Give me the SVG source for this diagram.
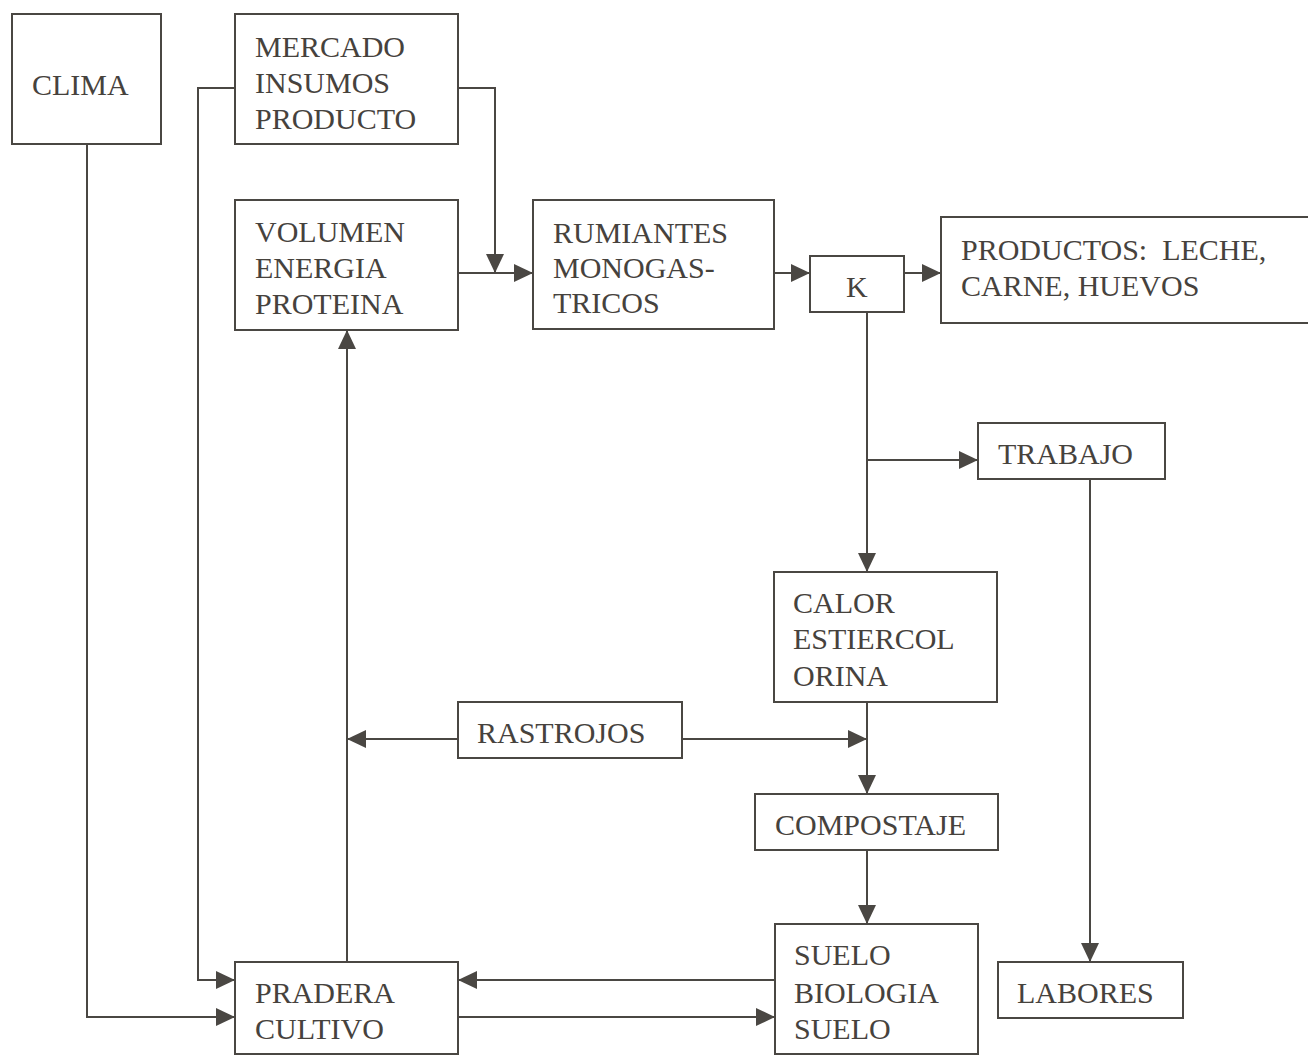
<svg xmlns="http://www.w3.org/2000/svg" width="1308" height="1057" viewBox="0 0 1308 1057">
<defs>
<style>
.box{fill:#fff;stroke:#4a4743;stroke-width:2}
.ln{fill:none;stroke:#4a4743;stroke-width:2;marker-end:url(#ah)}
text{font-family:"Liberation Serif","Times New Roman",serif;font-size:30px;fill:#46423d;white-space:pre}
</style>
<marker id="ah" markerUnits="userSpaceOnUse" markerWidth="19" markerHeight="18" refX="19" refY="9" orient="auto">
<path d="M0,0 L19,9 L0,18 z" fill="#4a4743"/>
</marker>
</defs>
<rect width="1308" height="1057" fill="#fff"/>
<g id="connectors">
<path class="ln" d="M87,144 V1017 H235"/>
<path class="ln" d="M235,88 H198 V980 H235"/>
<path class="ln" d="M458,88 H495 V273"/>
<path class="ln" d="M458,273 H533"/>
<path class="ln" d="M774,273 H810"/>
<path class="ln" d="M904,273 H941"/>
<path class="ln" d="M867,312 V572"/>
<path class="ln" d="M867,460 H978"/>
<path class="ln" d="M1090,479 V962"/>
<path class="ln" d="M458,739 H347"/>
<path class="ln" d="M682,739 H867"/>
<path class="ln" d="M867,702 V794"/>
<path class="ln" d="M867,850 V924"/>
<path class="ln" d="M775,980 H458"/>
<path class="ln" d="M458,1017 H775"/>
<path class="ln" d="M347,962 V330"/>
</g>
<g id="clima"><rect class="box" x="12" y="14" width="149" height="130"/><text x="32" y="95">CLIMA</text></g>
<g id="mercado"><rect class="box" x="235" y="14" width="223" height="130"/><text x="255" y="57">MERCADO</text><text x="255" y="93">INSUMOS</text><text x="255" y="129">PRODUCTO</text></g>
<g id="volumen"><rect class="box" x="235" y="200" width="223" height="130"/><text x="255" y="242">VOLUMEN</text><text x="255" y="278">ENERGIA</text><text x="255" y="314">PROTEINA</text></g>
<g id="rumiantes"><rect class="box" x="533" y="200" width="241" height="129"/><text x="553" y="243">RUMIANTES</text><text x="553" y="278">MONOGAS-</text><text x="553" y="313">TRICOS</text></g>
<g id="k"><rect class="box" x="810" y="256" width="94" height="56"/><text x="846" y="297">K</text></g>
<g id="productos"><rect class="box" x="941" y="217" width="380" height="106"/><text x="961" y="260" xml:space="preserve">PRODUCTOS:  LECHE,</text><text x="961" y="296">CARNE, HUEVOS</text></g>
<g id="trabajo"><rect class="box" x="978" y="423" width="187" height="56"/><text x="998" y="464">TRABAJO</text></g>
<g id="calor"><rect class="box" x="774" y="572" width="223" height="130"/><text x="793" y="613">CALOR</text><text x="793" y="649">ESTIERCOL</text><text x="793" y="686">ORINA</text></g>
<g id="rastrojos"><rect class="box" x="458" y="702" width="224" height="56"/><text x="477" y="743">RASTROJOS</text></g>
<g id="compostaje"><rect class="box" x="755" y="794" width="243" height="56"/><text x="775" y="835">COMPOSTAJE</text></g>
<g id="suelo"><rect class="box" x="775" y="924" width="203" height="130"/><text x="794" y="965">SUELO</text><text x="794" y="1003">BIOLOGIA</text><text x="794" y="1039">SUELO</text></g>
<g id="labores"><rect class="box" x="998" y="962" width="185" height="56"/><text x="1017" y="1003">LABORES</text></g>
<g id="pradera"><rect class="box" x="235" y="962" width="223" height="92"/><text x="255" y="1003">PRADERA</text><text x="255" y="1039">CULTIVO</text></g>
</svg>
